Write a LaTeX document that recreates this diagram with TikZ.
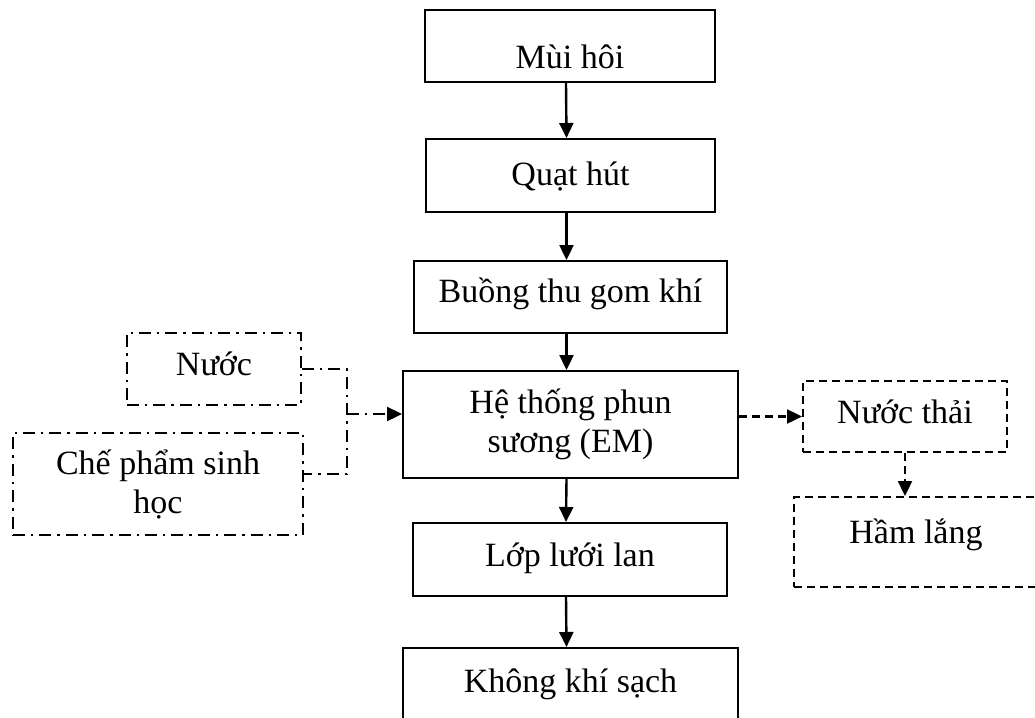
\documentclass[tikz,border=0pt]{standalone}
\usepackage{fontspec}
\setmainfont{Liberation Serif}
\usetikzlibrary{arrows.meta,calc}

\begin{document}
\begin{tikzpicture}[x=0.5pt, y=-0.5pt, font=\fontsize{17}{19.5}\selectfont,
        box/.style = {draw, line width=1pt, inner sep=0pt},
        mixbox/.style = {box, dash pattern=on 6pt off 3pt on 1.2pt off 3pt},
        dashbox/.style = {box, dash pattern=on 4pt off 2.5pt},
        mixline/.style = {line width=1pt, dash pattern=on 6pt off 3pt on 1.2pt off 3pt},
        dashline/.style = {line width=1pt, dash pattern=on 4pt off 2.5pt},
        flow/.style = {line width=1.2pt, -{Triangle[length=7.5pt,width=7pt]}}]
        \useasboundingbox (0,0) rectangle (1035,718);
        \clip (0,0) rectangle (1035,718);
        % main line
        \node[box, minimum width=145pt, text height=29pt, text depth=7pt] (mui) at (570,46) {Mùi hôi};
        \node[box, minimum width=144.5pt, text height=23pt, text depth=13.5pt] (quat) at (570.5,175.5) {Quạt hút};
        \node[box, minimum width=156.5pt, text height=20.5pt, text depth=15.5pt] (buong) at (570.5,297) {Buồng thu gom khí};
        \node[box, align=center, minimum width=167.5pt, minimum height=53.5pt] (he) at (570.5,424.5) {Hệ thống phun\\sương (EM)};
        \node[box, minimum width=157pt, text height=21.5pt, text depth=15pt] (lop) at (570,559.5) {Lớp lưới lan};
        \node[box, minimum width=167.5pt, text height=22pt, text depth=24pt] (khong) at (570.5,694) {Không khí sạch};
        % inputs and outputs
        \node[mixbox, minimum width=87pt, text height=21pt, text depth=15pt] (nuoc) at (214,369) {Nước};
        \node[mixbox, align=center, minimum width=145pt, minimum height=51pt] (che) at (158,484) {Chế phẩm sinh\\học};
        \node[dashbox, minimum width=102pt, text height=21pt, text depth=14.5pt] (thai) at (905,416.5) {Nước thải};
        \node[dashbox, minimum width=122pt, text height=23pt, text depth=22pt] (ham) at (916,542) {Hầm lắng};
        \draw[flow] ($(mui.south)+(-4,0)$) -- ($(quat.north)+(-4,0)$);
        \draw[flow] ($(quat.south)+(-4,0)$) -- ($(buong.north)+(-4,0)$);
        \draw[flow] ($(buong.south)+(-4,0)$) -- ($(he.north)+(-4,0)$);
        \draw[flow] ($(he.south)+(-4,0)$) -- ($(lop.north)+(-4,0)$);
        \draw[flow] ($(lop.south)+(-4,0)$) -- ($(khong.north)+(-4,0)$);
        \coordinate (join) at (347,414);
        \draw[mixline] (nuoc.east) -| (join) |- ($(che.east)+(0,-10)$);
        \draw[mixline, flow] (join) -- (join -| he.west);
        \draw[dashline, flow] (he.east |- thai.west) -- (thai.west);
        \draw[dashline, flow] (thai.south) -- (thai.south |- ham.north);
    \end{tikzpicture}
\end{document}
